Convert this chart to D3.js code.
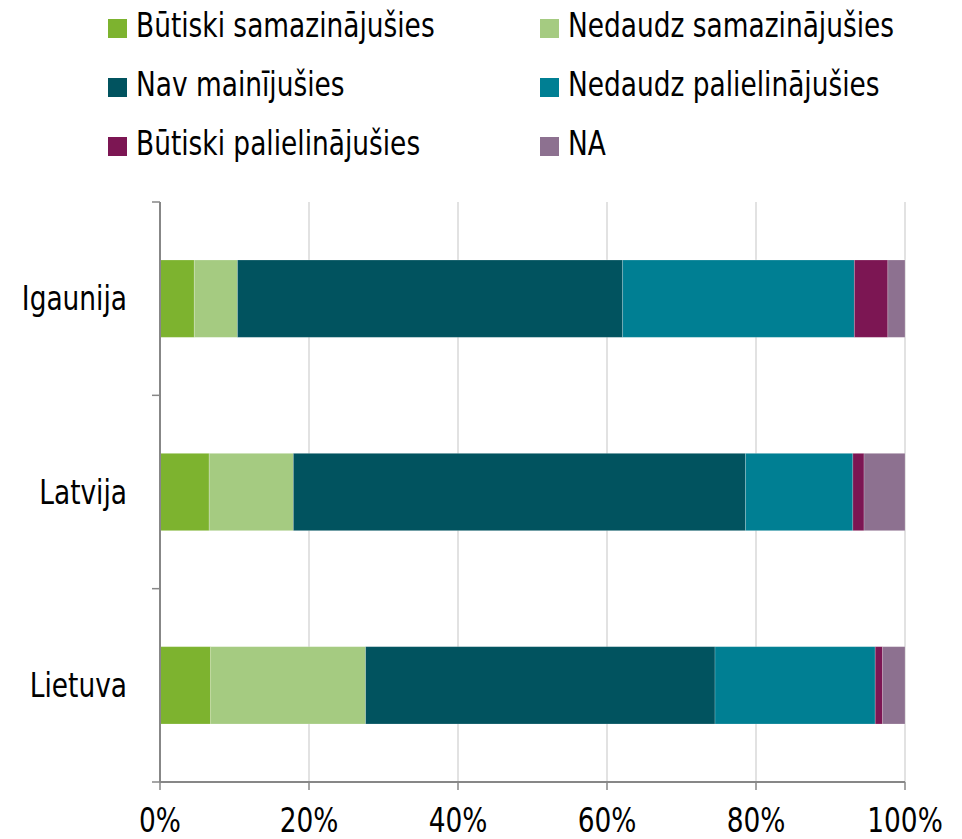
<!DOCTYPE html>
<html>
<head>
<meta charset="utf-8">
<script src="https://cdn.jsdelivr.net/npm/d3@7"></script>
<style>
  body { margin: 0; background: #fff; }
  svg text { font-family: "Liberation Sans Narrow", "DejaVu Sans Condensed", sans-serif; fill: #000; }
</style>
</head>
<body>
<svg id="chart" width="962" height="839"></svg>
<script>
// categories (top to bottom)
const countries = ['Igaunija', 'Latvija', 'Lietuva'];
// series, in stacking order
const seriesNames = ['Būtiski samazinājušies', 'Nedaudz samazinājušies', 'Nav mainījušies',
                     'Nedaudz palielinājušies', 'Būtiski palielinājušies', 'NA'];
const seriesColors = ['#7db32f', '#a5cb81', '#01535f', '#007f93', '#7c1653', '#8d7190'];
// shares in %, one array per series, in country order
const butiskiSam  = [4.6, 6.6, 6.8];
const nedaudzSam  = [5.8, 11.3, 20.8];
const navMain     = [51.7, 60.7, 46.9];
const nedaudzPal  = [31.1, 14.4, 21.5];
const butiskiPal  = [4.5, 1.5, 1.0];
const naShare     = [2.3, 5.5, 3.0];
const xTicks = [0, 20, 40, 60, 80, 100];

const seriesValues = [butiskiSam, nedaudzSam, navMain, nedaudzPal, butiskiPal, naShare];

var svg = d3.select('#chart');
var margin = {top: 202, right: 57, bottom: 57, left: 160};
var width = 962 - margin.left - margin.right,
    height = 839 - margin.top - margin.bottom;
var fontSize = '33px';

// rows for the stack
var rows = countries.map((c, i) => {
    let r = {country: c};
    seriesNames.forEach((s, j) => { r[s] = seriesValues[j][i]; });
    return r;
});
var stacked = d3.stack().keys(seriesNames)(rows);

var x = d3.scaleLinear().domain([0, 100]).range([0, width]);
var y = d3.scaleBand().domain(countries).range([0, height])
    .paddingInner(0.6).paddingOuter(0.3);

var g = svg.append('g')
    .attr('transform', 'translate(' + margin.left + ',' + margin.top + ')');

// grid lines
g.append('g').selectAll('line')
    .data(xTicks.slice(1))
    .join('line')
    .attr('x1', d => x(d)).attr('x2', d => x(d))
    .attr('y1', 0).attr('y2', height)
    .attr('stroke', '#d9d9d9')
    .attr('stroke-width', 1.5);

// bars
g.append('g').selectAll('g')
    .data(stacked)
    .join('g')
    .attr('fill', (d, i) => seriesColors[i])
    .selectAll('rect')
    .data(d => d)
    .join('rect')
    .attr('x', d => x(d[0]))
    .attr('width', d => x(d[1]) - x(d[0]))
    .attr('y', d => y(d.data.country))
    .attr('height', y.bandwidth())
    .attr('stroke', 'rgba(255,255,255,0.25)')
    .attr('stroke-width', 0.8);

// y axis: line with ticks at band edges
var yEdges = countries.map(c => y(c) - y.step() * y.paddingInner() / 2);
yEdges[0] = 0;
yEdges.push(height);
var yAxis = g.append('g');
yAxis.append('line')
    .attr('x1', 0).attr('x2', 0).attr('y1', 0).attr('y2', height)
    .attr('stroke', '#878787').attr('stroke-width', 2);
yAxis.selectAll('.ytick')
    .data(yEdges)
    .join('line')
    .attr('class', 'ytick')
    .attr('x1', -8).attr('x2', 0)
    .attr('y1', d => d).attr('y2', d => d)
    .attr('stroke', '#878787').attr('stroke-width', 1.5);
yAxis.selectAll('text')
    .data(countries)
    .join('text')
    .attr('x', -33)
    .attr('y', d => y(d) + y.bandwidth() / 2)
    .attr('dy', '0.35em')
    .attr('text-anchor', 'end')
    .attr('font-size', fontSize)
    .text(d => d);

// x axis
var xAxis = g.append('g').attr('transform', `translate(0,${height})`);
xAxis.append('line')
    .attr('x1', 0).attr('x2', width)
    .attr('stroke', '#878787').attr('stroke-width', 2);
xAxis.selectAll('.xtick')
    .data(xTicks)
    .join('line')
    .attr('class', 'xtick')
    .attr('x1', d => x(d)).attr('x2', d => x(d))
    .attr('y1', 0).attr('y2', 8)
    .attr('stroke', '#878787').attr('stroke-width', 1.5);
xAxis.selectAll('text')
    .data(xTicks)
    .join('text')
    .attr('x', d => x(d))
    .attr('y', 50)
    .attr('text-anchor', 'middle')
    .attr('font-size', fontSize)
    .text(d => d + '%');

// legend, two columns
var legend = svg.append('g');
var items = legend.selectAll('g')
    .data(seriesNames)
    .join('g')
    .attr('transform', (d, i) => `translate(${i % 2 === 0 ? 108 : 540},${19 + Math.floor(i / 2) * 59})`);
items.append('rect')
    .attr('width', 19).attr('height', 19)
    .attr('fill', (d, i) => seriesColors[i]);
items.append('text')
    .attr('x', 28)
    .attr('y', 18)
    .attr('font-size', fontSize)
    .text(d => d);

// the original face is narrower: squeeze all texts to the same width ratio
var squeeze = 0.89;
svg.selectAll('text').each(function() {
    let w = this.getComputedTextLength();
    d3.select(this)
        .attr('textLength', w * squeeze)
        .attr('lengthAdjust', 'spacingAndGlyphs');
});
</script>
</body>
</html>
